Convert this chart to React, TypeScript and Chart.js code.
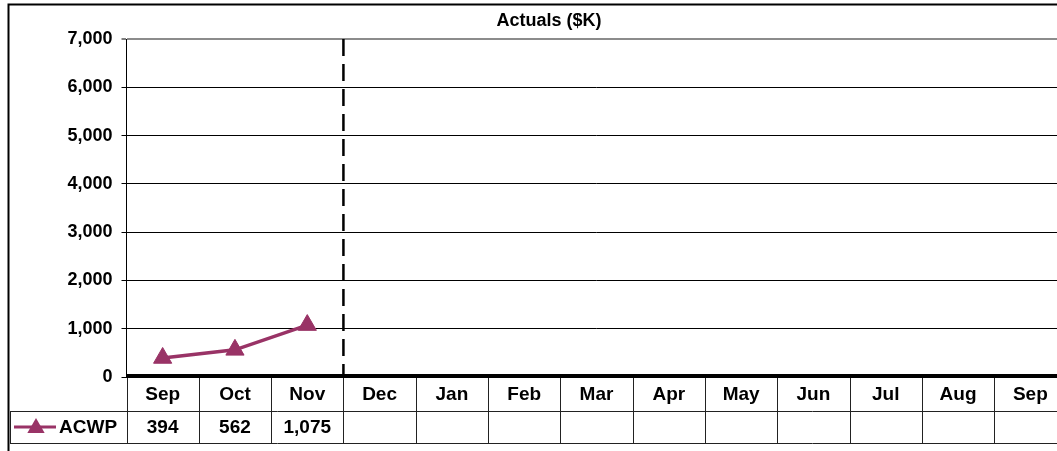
import React, { useEffect, useRef } from "react";
import { Chart, registerables } from "chart.js";

Chart.register(...registerables);

const months = ["Sep", "Oct", "Nov", "Dec", "Jan", "Feb", "Mar", "Apr", "May", "Jun", "Jul", "Aug", "Sep"];
const acwp: (number | null)[] = [394, 562, 1075, null, null, null, null, null, null, null, null, null, null];
const seriesName = "ACWP";
const chartTitle = "Actuals ($K)";
const yMax = 7000;
const yStep = 1000;
const actualsEndIndex = 2; // last month with actuals (Nov)

const LINE_COLOR = "#993366";
const FONT = "'Liberation Sans', Arial, sans-serif";

const fmt = (v: number) => v.toLocaleString("en-US");

const tablePlugin = {
  id: "tablePlugin",
  afterDraw(chart: any) {
    const ctx = chart.ctx as CanvasRenderingContext2D;
    const xs = chart.scales.x;
    const ys = chart.scales.y;
    const area = chart.chartArea;
    const W = chart.width;
    const n = months.length;
    const colW = xs.getPixelForValue(1) - xs.getPixelForValue(0);
    const y0 = ys.getPixelForValue(0);
    const row1Bottom = y0 + 34;
    const row2Bottom = y0 + 66;

    ctx.save();
    // title
    ctx.fillStyle = "#000";
    ctx.font = `bold 18px ${FONT}`;
    ctx.textAlign = "center";
    ctx.textBaseline = "middle";
    ctx.fillText(chartTitle, 549, 21);

    // outer frame
    ctx.strokeStyle = "#000";
    ctx.lineWidth = 2;
    ctx.beginPath();
    ctx.moveTo(8.5, 451);
    ctx.lineTo(8.5, 4.5);
    ctx.lineTo(W, 4.5);
    ctx.stroke();

    // dashed separator between actuals and future months
    const xSep = (xs.getPixelForValue(actualsEndIndex) + xs.getPixelForValue(actualsEndIndex + 1)) / 2;
    ctx.setLineDash([17, 8]);
    ctx.lineWidth = 2.5;
    ctx.beginPath();
    ctx.moveTo(xSep, area.top);
    ctx.lineTo(xSep, y0);
    ctx.stroke();
    ctx.setLineDash([]);

    // table vertical lines
    ctx.strokeStyle = "#222";
    ctx.lineWidth = 1;
    for (let i = 0; i <= n; i++) {
      const x = Math.round(xs.getPixelForValue(i) - colW / 2) + 0.5;
      ctx.beginPath();
      ctx.moveTo(x, y0);
      ctx.lineTo(x, row2Bottom);
      ctx.stroke();
    }
    // left cell
    ctx.beginPath();
    ctx.moveTo(10.5, row1Bottom);
    ctx.lineTo(10.5, row2Bottom);
    ctx.stroke();
    // horizontal lines
    ctx.beginPath();
    ctx.moveTo(10, Math.round(row1Bottom) + 0.5);
    ctx.lineTo(W, Math.round(row1Bottom) + 0.5);
    ctx.moveTo(10, Math.round(row2Bottom) + 0.5);
    ctx.lineTo(W, Math.round(row2Bottom) + 0.5);
    ctx.stroke();

    // thick zero axis line
    ctx.strokeStyle = "#000";
    ctx.lineWidth = 4;
    ctx.beginPath();
    ctx.moveTo(area.left, y0 - 1);
    ctx.lineTo(W, y0 - 1);
    ctx.stroke();

    // month labels and values
    ctx.fillStyle = "#000";
    ctx.font = `bold 19px ${FONT}`;
    ctx.textAlign = "center";
    ctx.textBaseline = "middle";
    const r1 = (y0 + row1Bottom) / 2 + 1;
    const r2 = (row1Bottom + row2Bottom) / 2 + 1;
    for (let i = 0; i < n; i++) {
      const x = xs.getPixelForValue(i);
      ctx.fillText(months[i], x, r1);
      const v = acwp[i];
      if (v !== null && v !== undefined) ctx.fillText(fmt(v), x, r2);
    }

    // legend key
    const ly = r2 - 1;
    ctx.strokeStyle = LINE_COLOR;
    ctx.lineWidth = 3;
    ctx.beginPath();
    ctx.moveTo(14, ly);
    ctx.lineTo(56, ly);
    ctx.stroke();
    const tr = 10;
    const tx = 36;
    const ty = ly + 1;
    ctx.fillStyle = LINE_COLOR;
    ctx.beginPath();
    ctx.moveTo(tx, ty - tr);
    ctx.lineTo(tx + tr * Math.sin((2 * Math.PI) / 3), ty - tr * Math.cos((2 * Math.PI) / 3));
    ctx.lineTo(tx + tr * Math.sin((4 * Math.PI) / 3), ty - tr * Math.cos((4 * Math.PI) / 3));
    ctx.closePath();
    ctx.fill();
    ctx.fillStyle = "#000";
    ctx.textAlign = "left";
    ctx.fillText(seriesName, 59, r2);
    ctx.restore();
  },
};

export default function App() {
  const ref = useRef<HTMLCanvasElement | null>(null);
  useEffect(() => {
    document.body.style.margin = "0";
    const canvas = ref.current!;
    const chart = new Chart(canvas, {
      type: "line",
      data: {
        labels: months,
        datasets: [
          {
            label: seriesName,
            data: acwp,
            borderColor: LINE_COLOR,
            backgroundColor: LINE_COLOR,
            borderWidth: 3.5,
            pointStyle: "triangle",
            pointRadius: 10.5,
            pointBorderWidth: 1,
            pointBackgroundColor: LINE_COLOR,
            pointBorderColor: LINE_COLOR,
            spanGaps: false,
          },
        ],
      },
      options: {
        responsive: false,
        devicePixelRatio: 1,
        animation: false,
        layout: { padding: { left: 0, top: 39, right: 1080 - 1066.5, bottom: 451 - 377 } },
        plugins: {
          legend: { display: false },
          title: { display: false },
          tooltip: { enabled: false },
        },
        scales: {
          x: {
            type: "category",
            offset: true,
            grid: { display: false },
            ticks: { display: false },
            border: { display: false },
            afterFit: (s: any) => {
              s.height = 0;
            },
          },
          y: {
            min: 0,
            max: yMax,
            ticks: {
              stepSize: yStep,
              color: "#000",
              font: { family: FONT, size: 18, weight: "bold" },
              padding: 9,
              callback: (v: any) => fmt(Number(v)),
            },
            grid: {
              color: (c: any) => (c.tick && c.tick.value === yMax ? "#8c8c8c" : "#000"),
              lineWidth: (c: any) => (c.tick && c.tick.value === yMax ? 2 : 1),
              tickLength: 5,
              tickColor: "#000",
              tickWidth: 1,
            },
            border: { display: true, color: "#000", width: 1 },
            afterFit: (s: any) => {
              s.width = 126.5;
            },
          },
        },
      },
      plugins: [tablePlugin],
    });
    return () => chart.destroy();
  }, []);
  return (
    <div style={{ position: "fixed", left: 0, top: 0, width: 1057, height: 451, overflow: "hidden", background: "#fff" }}>
      <canvas ref={ref} width={1080} height={451} style={{ width: 1080, height: 451, display: "block" }} />
    </div>
  );
}
